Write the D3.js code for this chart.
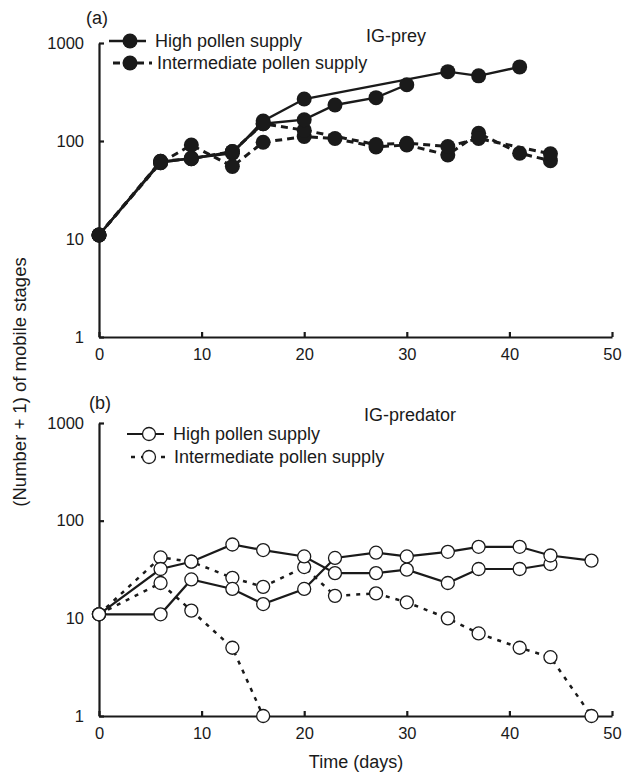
<!DOCTYPE html>
<html>
<head>
<meta charset="utf-8">
<script src="https://cdn.jsdelivr.net/npm/d3@7"></script>
<style>
  body { margin: 0; background: #fff; }
  svg text { font-family: "Liberation Sans", Arial, sans-serif; fill: #1a1a1a; }
</style>
</head>
<body>
<svg width="632" height="773"></svg>
<script>
// ---- data (Number + 1 of mobile stages) ----
// panel (a) IG-prey
const preyHighA_days = [0, 6, 9, 13, 16, 20, 34, 37, 41];
const preyHighA_vals = [11, 60, 67, 75, 160, 268, 510, 462, 570];
const preyHighB_days = [0, 6, 9, 13, 16, 20, 23, 27, 30];
const preyHighB_vals = [11, 62, 66, 78, 150, 165, 233, 277, 375];
const preyInterA_days = [0, 6, 9, 13, 16, 20, 23, 27, 30, 34, 37, 41, 44];
const preyInterA_vals = [11, 60, 91, 55, 97, 111, 106, 87, 91, 72, 120, 75, 63];
const preyInterB_days = [0, 6, 9, 13, 16, 20, 27, 30, 34, 37, 44];
const preyInterB_vals = [11, 62, 66, 78, 150, 129, 92, 95, 88, 106, 74];

// panel (b) IG-predator
const predHighA_days = [0, 6, 9, 13, 16, 20, 23, 27, 30, 34, 37, 41, 44];
const predHighA_vals = [11, 32, 38, 57, 50, 43, 29, 29, 31.5, 23, 32, 32, 36];
const predHighB_days = [0, 6, 9, 13, 16, 20, 23, 27, 30, 34, 37, 41, 44, 48];
const predHighB_vals = [11, 11, 25, 20, 14, 20, 41.5, 47, 43, 48, 54, 54, 44, 39];
const predInterA_days = [0, 6, 9, 13, 16, 20, 23, 27, 30, 34, 37, 41, 44, 48];
const predInterA_vals = [11, 42, 38, 26, 21, 33.5, 17, 18, 14.6, 10, 7, 5, 4, 1];
const predInterB_days = [0, 6, 9, 13, 16];
const predInterB_vals = [11, 23, 12, 5, 1];

const yTicks = [1, 10, 100, 1000];
const xTicks = [0, 10, 20, 30, 40, 50];
const legendLabels = ['High pollen supply', 'Intermediate pollen supply'];

const svg = d3.select('svg');
const ink = '#1a1a1a';

const zip = (days, vals) => days.map((d, i) => ({day: d, val: vals[i]}));

const panels = [
  {
    tag: '(a)', title: 'IG-prey', top: 43, bottom: 337, filled: true,
    dash: '7,5', dashW: 3, solidW: 2.4, r: 7.5,
    series: [
      {data: zip(preyInterA_days, preyInterA_vals), dashed: true},
      {data: zip(preyInterB_days, preyInterB_vals), dashed: true},
      {data: zip(preyHighA_days, preyHighA_vals), dashed: false},
      {data: zip(preyHighB_days, preyHighB_vals), dashed: false}
    ],
    tagPos: [97, 18], titlePos: [396, 36],
    legend: [{x1: 109, x2: 146, cx: 130, y: 41, tx: 155}, {x1: 113, x2: 152, cx: 130, y: 63, tx: 157}]
  },
  {
    tag: '(b)', title: 'IG-predator', top: 423, bottom: 716, filled: false,
    dash: '4,6', dashW: 2.5, solidW: 2.2, r: 6.5,
    series: [
      {data: zip(predInterA_days, predInterA_vals), dashed: true},
      {data: zip(predInterB_days, predInterB_vals), dashed: true},
      {data: zip(predHighA_days, predHighA_vals), dashed: false},
      {data: zip(predHighB_days, predHighB_vals), dashed: false}
    ],
    tagPos: [100, 403], titlePos: [410, 415],
    legend: [{x1: 127, x2: 164, cx: 149, y: 434, tx: 173}, {x1: 131, x2: 166, cx: 149, y: 457, tx: 174}]
  }
];

const xScale = d3.scaleLinear().domain([0, 50]).range([99, 612]);

panels.forEach(p => {
  const yScale = d3.scaleLog().domain([1, 1000]).range([p.bottom, p.top]);
  const g = svg.append('g');

  const yAxis = d3.axisLeft(yScale)
    .tickValues(yTicks)
    .tickFormat(d3.format('d'))
    .tickSizeInner(-5)
    .tickSizeOuter(0)
    .tickPadding(15);
  const yAxisG = g.append('g')
    .attr('transform', `translate(${xScale(0)},0)`)
    .call(yAxis);

  const xAxis = d3.axisBottom(xScale)
    .tickValues(xTicks)
    .tickSizeInner(-5)
    .tickSizeOuter(0)
    .tickPadding(11);
  const xAxisG = g.append('g')
    .attr('transform', `translate(0,${p.bottom})`)
    .call(xAxis);

  [yAxisG, xAxisG].forEach(a => {
    a.selectAll('path, line').attr('stroke', ink).attr('stroke-width', 2.2);
    a.selectAll('text')
      .attr('font-size', 16.5)
      .attr('font-family', '"Liberation Sans", Arial, sans-serif')
      .attr('fill', ink);
  });

  const line = d3.line()
    .x(d => xScale(d.day))
    .y(d => yScale(d.val));

  p.series.forEach(s => {
    g.append('path')
      .datum(s.data)
      .attr('d', line)
      .attr('fill', 'none')
      .attr('stroke', ink)
      .attr('stroke-width', s.dashed ? p.dashW : p.solidW)
      .attr('stroke-dasharray', s.dashed ? p.dash : null);
  });

  const drawMarker = (sel) => sel
    .attr('r', p.r)
    .attr('fill', p.filled ? ink : '#fff')
    .attr('stroke', ink)
    .attr('stroke-width', p.filled ? 0 : 1.3);

  p.series.forEach(s => {
    g.selectAll(null)
      .data(s.data)
      .enter().append('circle')
        .attr('cx', d => xScale(d.day))
        .attr('cy', d => yScale(d.val))
        .call(drawMarker);
  });

  // legend
  p.legend.forEach((L, i) => {
    g.append('line')
      .attr('x1', L.x1).attr('x2', L.x2)
      .attr('y1', L.y).attr('y2', L.y)
      .attr('stroke', ink)
      .attr('stroke-width', i === 0 ? p.solidW : p.dashW)
      .attr('stroke-dasharray', i === 0 ? null : p.dash);
    g.append('circle')
      .attr('cx', L.cx).attr('cy', L.y)
      .call(drawMarker);
    g.append('text')
      .attr('x', L.tx).attr('y', L.y)
      .attr('dy', '0.35em')
      .attr('font-size', 18)
      .text(legendLabels[i]);
  });

  g.append('text')
    .attr('x', p.tagPos[0]).attr('y', p.tagPos[1])
    .attr('dy', '0.35em')
    .attr('text-anchor', 'middle')
    .attr('font-size', 18)
    .text(p.tag);

  g.append('text')
    .attr('x', p.titlePos[0]).attr('y', p.titlePos[1])
    .attr('dy', '0.35em')
    .attr('text-anchor', 'middle')
    .attr('font-size', 18)
    .text(p.title);
});

svg.append('text')
  .attr('transform', 'translate(20,382) rotate(-90)')
  .attr('text-anchor', 'middle')
  .attr('dy', '0.35em')
  .attr('font-size', 18.5)
  .text('(Number + 1) of mobile stages');

svg.append('text')
  .attr('x', 356).attr('y', 762)
  .attr('dy', '0.35em')
  .attr('text-anchor', 'middle')
  .attr('font-size', 18)
  .text('Time (days)');
</script>
</body>
</html>
